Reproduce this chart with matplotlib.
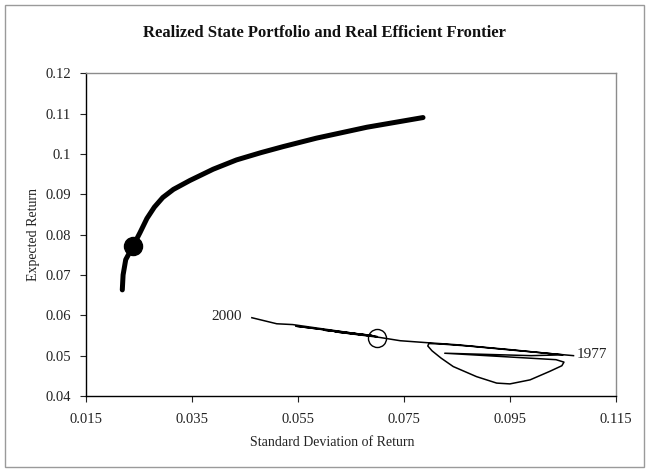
import numpy as np
import matplotlib
matplotlib.use("Agg")
import matplotlib.pyplot as plt
from matplotlib.patches import Rectangle

plt.rcParams['font.family'] = ['Liberation Serif', 'DejaVu Serif']

# efficient frontier (std dev, expected return)
frontier_sd = [0.02185, 0.0220, 0.0225, 0.0239, 0.0252, 0.0265, 0.0279, 0.0295,
               0.0315, 0.0346, 0.0390, 0.0434, 0.0480, 0.0522, 0.0585, 0.0680,
               0.0786]
frontier_ret = [0.0663, 0.0700, 0.0738, 0.0772, 0.0805, 0.0840, 0.0868, 0.0892,
                0.0912, 0.0934, 0.0962, 0.0985, 0.1003, 0.1018, 0.1039, 0.1066,
                0.1090]

# point on the frontier
opt_sd, opt_ret = 0.0239, 0.0772

# realized state portfolio path, 1977 -> 2000
path_sd = [0.1070, 0.0960, 0.0870, 0.0818, 0.0797, 0.0795, 0.0803, 0.0820,
           0.0843, 0.0887, 0.0925, 0.0950, 0.0988, 0.1025, 0.1048, 0.1052,
           0.1037, 0.0827, 0.0990, 0.1050, 0.0950, 0.0850, 0.0795, 0.0743,
           0.0705, 0.0620, 0.0700, 0.0546, 0.0690, 0.0600, 0.0695, 0.0540,
           0.0510, 0.0463]
path_ret = [0.0500, 0.0513, 0.0524, 0.0529, 0.0530, 0.0524, 0.0512, 0.0494,
            0.0473, 0.0448, 0.0432, 0.0430, 0.0440, 0.0461, 0.0475, 0.0484,
            0.0490, 0.0506, 0.0500, 0.0502, 0.0515, 0.0527, 0.0532, 0.0537,
            0.0545, 0.0559, 0.0547, 0.0573, 0.0550, 0.0563, 0.0548, 0.0577,
            0.0579, 0.0594]

# realized mean point
mean_sd, mean_ret = 0.0699, 0.0543

xticks = [0.015, 0.035, 0.055, 0.075, 0.095, 0.115]
xtick_labels = ['0.015', '0.035', '0.055', '0.075', '0.095', '0.115']
yticks = [0.04, 0.05, 0.06, 0.07, 0.08, 0.09, 0.10, 0.11, 0.12]
ytick_labels = ['0.04', '0.05', '0.06', '0.07', '0.08', '0.09', '0.1', '0.11', '0.12']

fig = plt.figure(figsize=(6.49, 4.72), dpi=100)
ax = fig.add_axes([0.1325, 0.161, 0.8165, 0.684])

ax.plot(frontier_sd, frontier_ret, color='black', lw=3.6,
        solid_capstyle='round', solid_joinstyle='round')
ax.plot([opt_sd], [opt_ret], 'o', color='black', ms=13)

ax.plot(path_sd, path_ret, color='black', lw=1.1, solid_joinstyle='round')
ax.plot([mean_sd], [mean_ret], 'o', mfc='none', mec='black', ms=13, mew=1.0)

ax.text(path_sd[-1] - 0.0019, path_ret[-1] + 0.0004, '2000', ha='right',
        va='center', fontsize=11, color='#222222')
ax.text(path_sd[0] + 0.0006, path_ret[0] + 0.0002, '1977', ha='left',
        va='center', fontsize=11, color='#222222')

ax.set_xlim(0.015, 0.115)
ax.set_ylim(0.04, 0.12)
ax.set_xticks(xticks)
ax.set_xticklabels(xtick_labels)
ax.set_yticks(yticks)
ax.set_yticklabels(ytick_labels)
ax.tick_params(direction='out', length=4, width=0.8, labelsize=10.5,
               colors='#222222')
ax.tick_params(axis='x', pad=8)
ax.tick_params(axis='y', pad=7)

for s in ['left', 'bottom']:
    ax.spines[s].set_color('black')
    ax.spines[s].set_linewidth(1.0)
for s in ['top', 'right']:
    ax.spines[s].set_color('#8c8c8c')
    ax.spines[s].set_linewidth(1.0)

ax.set_xlabel('Standard Deviation of Return', fontsize=10, color='#222222')
ax.xaxis.set_label_coords(0.465, -0.124)
ax.set_ylabel('Expected Return', fontsize=10, color='#222222', labelpad=3.5)
fig.suptitle('Realized State Portfolio and Real Efficient Frontier',
             fontsize=12, fontweight='bold', y=0.947, color='#111111')

fig.patches.append(Rectangle((0.008, 0.011), 0.9845, 0.978, transform=fig.transFigure,
                             fill=False, edgecolor='#9a9a9a', lw=1.0))

fig.savefig('out.png', dpi=100)
